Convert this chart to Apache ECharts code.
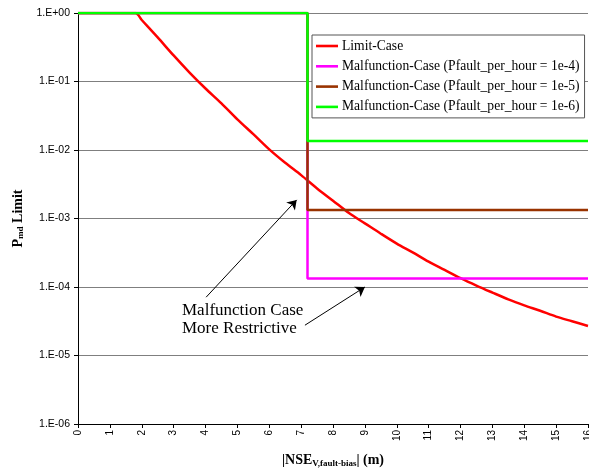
<!DOCTYPE html>
<html><head><meta charset="utf-8">
<script src="https://cdn.jsdelivr.net/npm/echarts@6/dist/echarts.min.js"></script>
<style>html,body{margin:0;padding:0;background:#fff}#c{width:589px;height:470px}</style>
</head><body><div id="c"></div>
<script>
// Data
const limitX = [0, 1.8, 2, 2.5, 3, 3.5, 4, 4.5, 5, 5.5, 6, 6.5, 7, 7.5, 8, 8.5, 9, 9.5, 10, 10.5, 11, 11.5, 12, 12.5, 13, 13.5, 14, 14.5, 15, 15.5, 16];
const limitY = [1, 1, 0.79, 0.44, 0.24, 0.135, 0.079, 0.048, 0.028, 0.017, 0.0102, 0.0065, 0.0043, 0.00275, 0.00182, 0.0012, 0.00085, 0.0006, 0.00043, 0.00032, 0.000234, 0.000178, 0.000135, 0.000105, 0.000083, 0.000066, 0.000054, 0.000045, 0.000037, 0.0000316, 0.000027];
const stepX = [0, 7.2, 7.2, 16];
const mal4Y = [1, 1, 1.33e-4, 1.33e-4];
const mal5Y = [1, 1, 1.33e-3, 1.33e-3];
const mal6Y = [1, 1, 1.35e-2, 1.35e-2];
const seriesNames = ['Limit-Case', 'Malfunction-Case (Pfault_per_hour = 1e-4)', 'Malfunction-Case (Pfault_per_hour = 1e-5)', 'Malfunction-Case (Pfault_per_hour = 1e-6)'];
const seriesColors = ['#FF0000', '#FF00FF', '#993300', '#00FF00'];
const xTicks = [0,1,2,3,4,5,6,7,8,9,10,11,12,13,14,15,16];
// annotation arrows (data coords): [tail, tip]
const arrows = [[[4.02, 7.1e-5], [6.86, 1.87e-3]], [[7.12, 2.77e-5], [9.0, 1.0e-4]]];

const zip = (xs, ys) => xs.map((x, i) => [x, ys[i]]);
const chart = echarts.init(document.getElementById('c'), null, {renderer: 'canvas'});
const serif = '"Liberation Serif", "Times New Roman", serif';
const sans = '"Liberation Sans", Arial, sans-serif';
const lineIcon = 'path://M0,0 L22,0 L22,2.6 L0,2.6 Z';

const mkLine = (name, data, color, extra) => Object.assign({
  name, type: 'line', data, symbol: 'none', showSymbol: false, smooth: false,
  lineStyle: {color, width: 2.5}, itemStyle: {color}, animation: false
}, extra || {});

const option = {
  animation: false,
  backgroundColor: '#fff',
  grid: {left: 78, right: 1, top: 13, bottom: 46, containLabel: false, outerBoundsMode: 'none'},
  xAxis: {
    type: 'value', min: 0, max: 16, interval: 1,
    axisLine: {lineStyle: {color: '#000', width: 1}},
    axisTick: {show: true, length: 4, lineStyle: {color: '#000'}},
    axisLabel: {rotate: 90, fontFamily: sans, fontSize: 10, color: '#000', margin: 6,
      formatter: v => xTicks.includes(v) ? String(v) : ''},
    splitLine: {show: false},
    name: '{b||NSE}{s|V,fault-bias}{b|| (m)}',
    nameLocation: 'middle', nameGap: 29,
    nameTextStyle: {rich: {
      b: {fontFamily: serif, fontWeight: 'bold', fontSize: 14, color: '#000'},
      s: {fontFamily: serif, fontWeight: 'bold', fontSize: 9, color: '#000', verticalAlign: 'bottom', padding: [6, 0, 0, 0]}
    }}
  },
  yAxis: {
    type: 'log', logBase: 10, min: 1e-6, max: 1,
    axisLine: {show: true, lineStyle: {color: '#000', width: 1}},
    axisTick: {show: true, length: 4, lineStyle: {color: '#000'}},
    axisLabel: {fontFamily: sans, fontSize: 10.5, color: '#000', margin: 8,
      formatter: v => { const e = Math.round(Math.log10(v)); return '1.E' + (e < 0 ? '-' : '+') + String(Math.abs(e)).padStart(2, '0'); }},
    splitLine: {show: true, lineStyle: {color: '#7f7f7f', width: 1}},
    name: '{b|P}{s|md}{b| Limit}',
    nameLocation: 'middle', nameGap: 52, nameRotate: 90,
    nameTextStyle: {rich: {
      b: {fontFamily: serif, fontWeight: 'bold', fontSize: 14, color: '#000'},
      s: {fontFamily: serif, fontWeight: 'bold', fontSize: 9, color: '#000', verticalAlign: 'bottom', padding: [6, 0, 0, 0]}
    }}
  },
  legend: {
    orient: 'vertical', left: 312, top: 35,
    backgroundColor: '#fff', borderColor: '#555', borderWidth: 1,
    padding: [4, 5, 4, 4], itemGap: 6.3, itemWidth: 22, itemHeight: 15,
    icon: lineIcon,
    textStyle: {fontFamily: serif, fontSize: 13.6, color: '#000', padding: [0, 0, 0, -1]},
    data: seriesNames
  },
  series: [
    mkLine(seriesNames[0], zip(limitX, limitY), seriesColors[0], {smooth: 0.3}),
    mkLine(seriesNames[1], zip(stepX, mal4Y), seriesColors[1]),
    mkLine(seriesNames[2], zip(stepX, mal5Y), seriesColors[2]),
    mkLine(seriesNames[3], zip(stepX, mal6Y), seriesColors[3]),
    {
      type: 'line', data: [], silent: true,
      markLine: {
        silent: true, animation: false,
        symbol: ['none', 'arrow'], symbolSize: 9,
        lineStyle: {color: '#000', width: 1, type: 'solid'},
        itemStyle: {color: '#000'},
        label: {show: false},
        emphasis: {disabled: true},
        data: arrows.map(a => [{coord: a[0]}, {coord: a[1]}])
      }
    }
  ],
  graphic: [
    {type: 'text', left: 182, top: 302, silent: true,
     style: {text: 'Malfunction Case\nMore Restrictive', fontFamily: serif, fontSize: 17, lineHeight: 18, fill: '#000'}}
  ]
};
chart.setOption(option);
</script></body></html>
